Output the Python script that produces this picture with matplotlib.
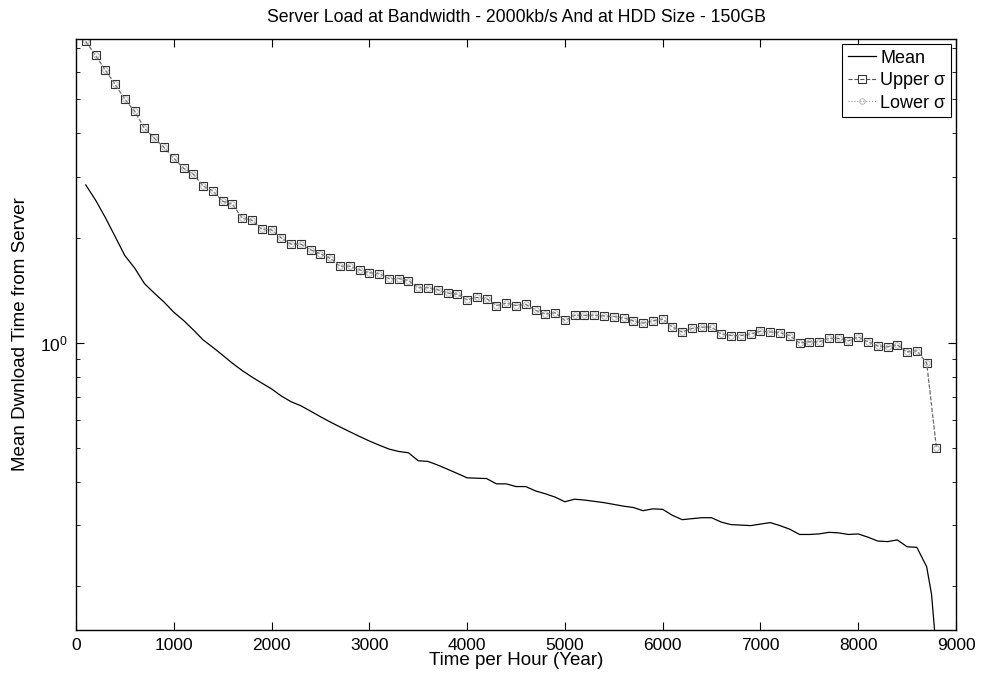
import numpy as np
import matplotlib.pyplot as plt
from matplotlib.ticker import LogLocator, NullFormatter, FixedLocator

plt.rcParams['font.family'] = ['Liberation Sans', 'DejaVu Sans']

# hour samples for the sigma curves (every 100 h)
hours = list(range(100, 8900, 100))

upper_sigma = [7.33, 6.69, 6.06, 5.52, 5.00, 4.62, 4.13, 3.87, 3.64, 3.39,
               3.17, 3.05, 2.82, 2.73, 2.55, 2.50, 2.28, 2.25, 2.12, 2.11,
               2.00, 1.92, 1.92, 1.85, 1.80, 1.75, 1.66, 1.66, 1.62, 1.59,
               1.58, 1.53, 1.53, 1.51, 1.44, 1.44, 1.42, 1.39, 1.38, 1.33,
               1.35, 1.34, 1.28, 1.30, 1.28, 1.29, 1.24, 1.21, 1.22, 1.16,
               1.20, 1.20, 1.20, 1.195, 1.19, 1.18, 1.156, 1.14, 1.156, 1.17,
               1.11, 1.075, 1.10, 1.11, 1.11, 1.06, 1.05, 1.05, 1.06, 1.08,
               1.075, 1.07, 1.05, 1.00, 1.007, 1.007, 1.03, 1.03, 1.013, 1.04,
               1.007, 0.98, 0.974, 0.987, 0.942, 0.949, 0.877, 0.50]

# lower sigma sits right on top of the upper one in the original
lower_sigma = list(upper_sigma)

mean_hours = list(range(100, 8800, 100)) + [8750, 8800]
mean_time = [2.84, 2.57, 2.29, 2.02, 1.78, 1.64, 1.48, 1.39, 1.31, 1.225,
             1.16, 1.09, 1.02, 0.971, 0.922, 0.874, 0.833, 0.798, 0.767, 0.738,
             0.704, 0.678, 0.660, 0.637, 0.614, 0.593, 0.574, 0.556, 0.539, 0.523,
             0.509, 0.496, 0.488, 0.484, 0.459, 0.457, 0.446, 0.434, 0.422, 0.410,
             0.409, 0.408, 0.394, 0.394, 0.387, 0.387, 0.376, 0.369, 0.361, 0.350,
             0.356, 0.354, 0.351, 0.348, 0.344, 0.340, 0.337, 0.330, 0.334, 0.333,
             0.320, 0.311, 0.313, 0.315, 0.315, 0.306, 0.301, 0.300, 0.299, 0.302,
             0.305, 0.299, 0.292, 0.282, 0.282, 0.283, 0.286, 0.285, 0.282, 0.283,
             0.277, 0.270, 0.269, 0.272, 0.260, 0.259, 0.228, 0.19, 0.13]

fig = plt.figure(figsize=(9.83, 6.78), dpi=100)
ax = fig.add_axes([0.0773, 0.0708, 0.8952, 0.8717])

ax.plot(mean_hours, mean_time, '-', color='black', lw=0.9, label='Mean')
ax.plot(hours, upper_sigma, '--', color='#555555', lw=0.8, marker='s',
        markersize=5.5, markerfacecolor='none', markeredgecolor='#333333',
        markeredgewidth=0.8, label='Upper \u03c3')
ax.plot(hours, lower_sigma, ':', color='#999999', lw=0.8, marker='o',
        markersize=4, markerfacecolor='none', markeredgecolor='#aaaaaa',
        markeredgewidth=0.6, label='Lower \u03c3')

ax.set_yscale('log')
ax.set_xlim(0, 9000)
ax.set_ylim(0.15, 7.45)
ax.xaxis.set_major_locator(FixedLocator(np.arange(0, 9001, 1000)))
ax.yaxis.set_major_locator(LogLocator(base=10))
ax.yaxis.set_minor_locator(LogLocator(base=10, subs=np.arange(2, 10)))
ax.yaxis.set_minor_formatter(NullFormatter())

ax.tick_params(which='both', direction='in', top=True, right=True, labelsize=12.5)
ax.tick_params(which='major', length=6, pad=6)
ax.tick_params(which='minor', length=3)
for s in ax.spines.values():
    s.set_linewidth(1.0)

ax.set_title('Server Load at Bandwidth - 2000kb/s And at HDD Size - 150GB',
             fontsize=12.7, pad=12)
ax.set_xlabel('Time per Hour (Year)', fontsize=13.5, labelpad=-1)
ax.set_ylabel('Mean Dwnload Time from Server', fontsize=13.5)
ax.yaxis.set_label_coords(-0.053, 0.5)

leg = ax.legend(loc='upper right', fontsize=13, handlelength=1.6,
                handletextpad=0.2, borderpad=0.3, labelspacing=0.3,
                borderaxespad=0.3, fancybox=False, framealpha=1)
leg.get_frame().set_edgecolor('black')
leg.get_frame().set_linewidth(0.8)

fig.savefig('out.png', dpi=100)
